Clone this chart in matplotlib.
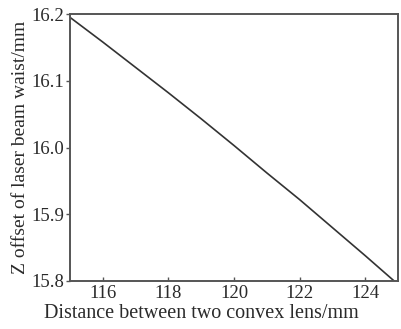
import numpy as np
import matplotlib
matplotlib.use('Agg')
import matplotlib.pyplot as plt

# distance between the two lenses (mm) and z offset of the waist (mm)
distance = [115, 116, 117, 118, 119, 120, 121, 122, 123, 124, 125]
z_offset = [16.195, 16.158, 16.120, 16.082, 16.043, 16.003, 15.962, 15.922, 15.880, 15.838, 15.795]
xticks = [116, 118, 120, 122, 124]
yticks = [15.8, 15.9, 16.0, 16.1, 16.2]

plt.rcParams['font.family'] = ['Liberation Serif', 'DejaVu Serif']

fig = plt.figure(figsize=(4.02, 3.29), dpi=100)
ax = fig.add_axes([0.1741, 0.1459, 0.8159, 0.8115])

ax.plot(distance, z_offset, color='#333333', linewidth=1.2)

ax.set_xlim(115, 125)
ax.set_ylim(15.8, 16.2)
ax.set_xticks(xticks)
ax.set_yticks(yticks)
ax.set_yticklabels([f"{v:.1f}" for v in yticks])

for s in ax.spines.values():
    s.set_color('#555555')
    s.set_linewidth(1.4)

ax.tick_params(axis='x', direction='in', length=3, width=1, color='#555555',
               labelsize=13.5, labelcolor='#2a2a2a', pad=3)
ax.tick_params(axis='y', direction='out', length=3, width=1, color='#555555',
               labelsize=13.5, labelcolor='#2a2a2a', pad=1)

ax.set_xlabel('Distance between two convex lens/mm', fontsize=14.5, color='#2a2a2a', labelpad=0)
ax.xaxis.set_label_coords(0.40, -0.088)
ax.set_ylabel('Z offset of laser beam waist/mm', fontsize=14, color='#2a2a2a', labelpad=2)

fig.savefig('out.png', dpi=100)
